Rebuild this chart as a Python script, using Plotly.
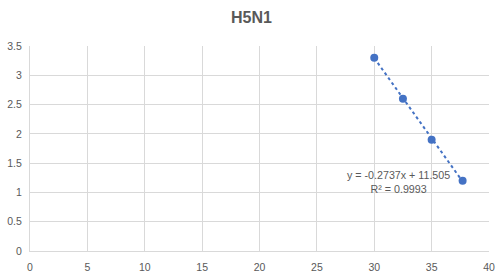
import plotly.graph_objects as go

x_vals = [30.0, 32.5, 35.0, 37.7]
y_vals = [3.3, 2.6, 1.9, 1.2]
slope = -0.2737
intercept = 11.505
eq_text = "y = -0.2737x + 11.505"
r2_text = "R² = 0.9993"
title = "H5N1"

blue = "#4472C4"
grey = "#595959"
grid = "#D9D9D9"
font = "Liberation Sans"

x_fit = [min(x_vals), max(x_vals)]
y_fit = [slope * v + intercept for v in x_fit]

fig = go.Figure()
fig.add_trace(go.Scatter(x=x_fit, y=y_fit, mode="lines",
                         line=dict(color=blue, width=2, dash="dot"),
                         hoverinfo="skip", showlegend=False))
fig.add_trace(go.Scatter(x=x_vals, y=y_vals, mode="markers",
                         marker=dict(color=blue, size=8),
                         showlegend=False))

fig.add_annotation(x=32.15, y=1.18, xref="x", yref="y",
                   text=eq_text + "<br>" + r2_text, showarrow=False,
                   font=dict(family=font, size=10.7, color=grey),
                   align="center")

fig.update_layout(
    width=503, height=274,
    margin=dict(l=30, r=14, t=46, b=23, autoexpand=False),
    paper_bgcolor="white", plot_bgcolor="white",
    title=dict(text="<b>" + title + "</b>", x=0.5, xanchor="center",
               y=0.935, yanchor="middle",
               font=dict(family=font, size=16, color=grey)),
    font=dict(family=font, size=10, color=grey),
)
fig.update_xaxes(range=[0, 40], dtick=5, tick0=0, showgrid=True,
                 gridcolor=grid, gridwidth=1, zeroline=False,
                 showline=True, linecolor=grid, mirror=False,
                 ticks="", ticklabelstandoff=6,
                 tickfont=dict(family=font, size=10.5, color=grey))
fig.update_yaxes(range=[0, 3.5], dtick=0.5, tick0=0, showgrid=True,
                 gridcolor=grid, gridwidth=1, zeroline=False,
                 showline=True, linecolor=grid,
                 ticks="", ticklabelstandoff=5,
                 tickfont=dict(family=font, size=10.5, color=grey))

fig.write_html("out.html")
